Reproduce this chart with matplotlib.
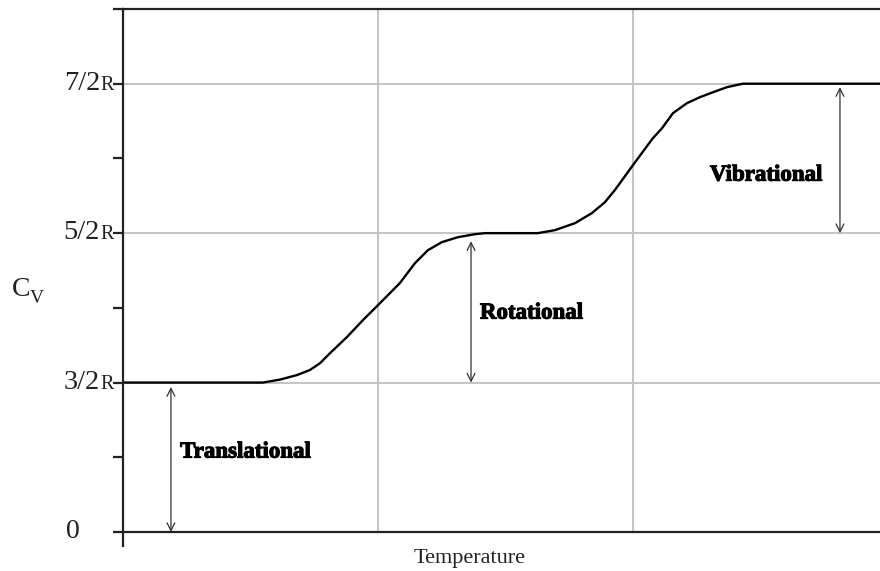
import matplotlib
matplotlib.use('Agg')
import matplotlib.pyplot as plt
import matplotlib.patheffects as pe

# Heat capacity curve of a diatomic gas
temperature = [0, 0.549, 0.616, 0.682, 0.733, 0.773, 0.812, 0.878, 0.941, 1.0,
               1.086, 1.145, 1.196, 1.251, 1.314, 1.380, 1.420, 1.627, 1.694,
               1.773, 1.839, 1.890, 1.929, 2.0, 2.078, 2.114, 2.157, 2.212,
               2.263, 2.314, 2.369, 2.431, 2.969]
cv = [1.0, 1.0, 1.020, 1.050, 1.084, 1.130, 1.197, 1.304, 1.418, 1.518,
      1.666, 1.799, 1.886, 1.940, 1.973, 1.993, 2.0, 2.0, 2.020,
      2.067, 2.134, 2.207, 2.288, 2.455, 2.635, 2.702, 2.803, 2.870,
      2.910, 2.943, 2.977, 3.0, 3.0]

# y levels (equally spaced positions) and their labels
level_pos = [1, 2, 3]
level_num = ['3/2', '5/2', '7/2']

# contribution arrows
mode_names = ['Translational', 'Rotational', 'Vibrational']
arrow_x = [0.188, 1.365, 2.812]
arrow_lo = [0.0, 1.0, 2.0]
arrow_hi = [0.97, 1.946, 2.977]
name_x = [0.224, 1.40, 2.302]
name_y = [0.535, 1.465, 2.388]

serif = 'Liberation Serif'

fig = plt.figure(figsize=(8.8, 5.71), dpi=100)
ax = fig.add_axes([123 / 880, 39 / 571, 757 / 880, 523 / 571])

ax.set_xlim(0, 2.969)
ax.set_ylim(0, 3.5)

# grid
ax.set_xticks([1, 2])
ax.set_xticks([0], minor=True)
ax.set_yticks([0, 1, 2, 3])
ax.set_yticks([0.5, 1.5, 2.5, 3.5], minor=True)
ax.grid(True, which='major', color='#c4c4c4', linewidth=1.4)
ax.set_axisbelow(True)
ax.set_xticklabels([])
ax.set_yticklabels([])
ax.tick_params(axis='x', which='major', length=0)
ax.tick_params(axis='x', which='minor', length=11, width=1.6, color='#222222')
ax.tick_params(axis='y', which='both', direction='out', length=7.5, width=1.6,
               color='#222222')

for side in ['left', 'top', 'bottom']:
    ax.spines[side].set_linewidth(1.6)
    ax.spines[side].set_color('#222222')
ax.spines['right'].set_visible(False)

ax.plot(temperature, cv, color='black', linewidth=1.7,
        solid_joinstyle='round', solid_capstyle='round')

# tick labels: number plus a small R
ytr = ax.get_yaxis_transform()
for pos, num in zip(level_pos, level_num):
    ax.annotate(num, xy=(0, pos), xycoords=ytr, xytext=(-23, -6),
                textcoords='offset pixels', ha='right', va='baseline',
                fontsize=20.5, family=serif, color='#222222')
    ax.annotate('R', xy=(0, pos), xycoords=ytr, xytext=(-9, -6),
                textcoords='offset pixels', ha='right', va='baseline',
                fontsize=14.5, family=serif, color='#222222')
ax.annotate('0', xy=(0, 0), xycoords=ytr, xytext=(-50, 0),
            textcoords='offset pixels', ha='center', va='center',
            fontsize=20, family=serif, color='#222222')

# arrows and mode names
for x, lo, hi in zip(arrow_x, arrow_lo, arrow_hi):
    ax.annotate('', xy=(x, hi), xytext=(x, lo),
                arrowprops=dict(arrowstyle='<->', color='#333333', lw=0.9,
                                mutation_scale=14, shrinkA=0, shrinkB=0))
for name, x, y in zip(mode_names, name_x, name_y):
    ax.text(x, y, name, ha='left', va='center', fontsize=16.5,
            fontweight='bold', family=serif, color='black',
            path_effects=[pe.withStroke(linewidth=0.8, foreground='black')])

fig.text(12 / 880, 1 - 296 / 571, 'C', fontsize=20, family=serif,
         ha='left', va='baseline', color='#222222')
fig.text(30 / 880, 1 - 303 / 571, 'V', fontsize=14, family=serif,
         ha='left', va='baseline', color='#222222')
fig.text(470 / 880, 1 - 559 / 571, 'Temperature', fontsize=16, family=serif,
         ha='center', va='center', color='#222222')

fig.savefig('out.png', dpi=100)
